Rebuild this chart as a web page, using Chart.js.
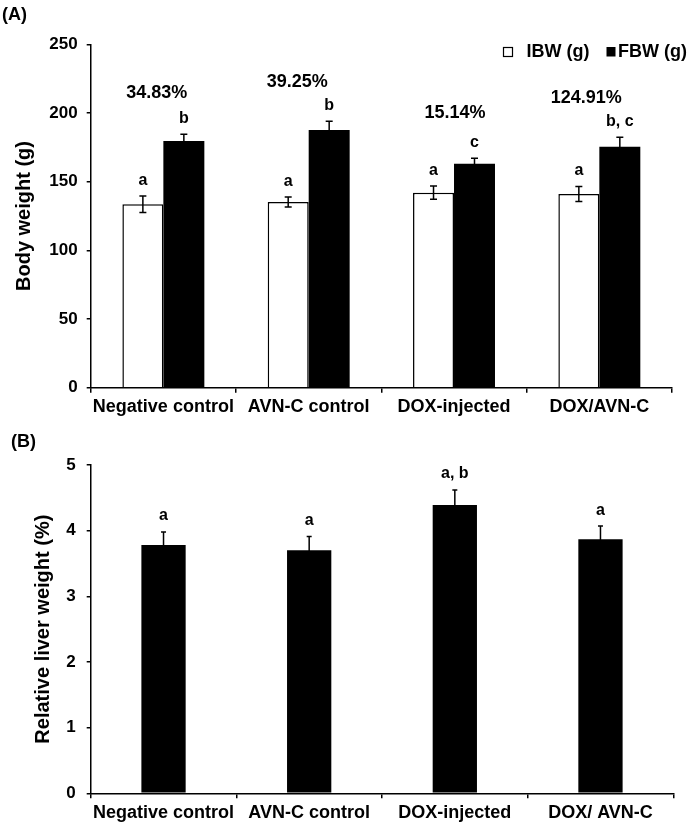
<!DOCTYPE html>
<html><head><meta charset="utf-8">
<script src="https://cdn.jsdelivr.net/npm/chart.js@4.4.0/dist/chart.umd.min.js"></script>
<style>
html,body{margin:0;padding:0;background:#fff;}
#wrap{position:relative;width:692px;height:830px;overflow:hidden;background:#fff;}
#cA{position:absolute;left:0;top:0;}
#cB{position:absolute;left:0;top:415px;}
</style></head><body>
<div id="wrap">
<canvas id="cA" width="692" height="430"></canvas>
<canvas id="cB" width="692" height="415"></canvas>
</div>
<script>
// ---- Data (A) ----
const categoriesA = ['Negative control', 'AVN-C control', 'DOX-injected', 'DOX/AVN-C'];
const ibw = [133.5, 135.2, 142.0, 141.0];
const ibwErr = [6.0, 3.6, 4.8, 5.5];
const fbw = [179.6, 187.6, 163.1, 175.5];
const fbwErr = [5.0, 6.3, 4.0, 6.8];
const ibwLetters = ['a', 'a', 'a', 'a'];
const fbwLetters = ['b', 'b', 'c', 'b, c'];
const gainLabels = ['34.83%', '39.25%', '15.14%', '124.91%'];
const yTicksA = [0, 50, 100, 150, 200, 250];

// ---- Data (B) ----
const categoriesB = ['Negative control', 'AVN-C control', 'DOX-injected', 'DOX/ AVN-C'];
const liver = [3.78, 3.70, 4.39, 3.87];
const liverErr = [0.20, 0.21, 0.23, 0.20];
const liverLetters = ['a', 'a', 'a, b', 'a'];
const yTicksB = [0, 1, 2, 3, 4, 5];

const FAM = '"Liberation Sans", Arial, Helvetica, sans-serif';
Chart.defaults.font.family = FAM;
Chart.defaults.color = '#000';

function drawErr(ctx, cx, top, bot, half) {
  ctx.beginPath();
  ctx.moveTo(cx, top); ctx.lineTo(cx, bot);
  ctx.moveTo(cx - half, top); ctx.lineTo(cx + half, top);
  ctx.moveTo(cx - half, bot); ctx.lineTo(cx + half, bot);
  ctx.stroke();
}

const annotA = {
  id: 'annotA',
  afterDatasetsDraw(chart, args, opts) {
    const ctx = chart.ctx, y = chart.scales.y, x = chart.scales.x;
    ctx.save();
    ctx.strokeStyle = '#000'; ctx.fillStyle = '#000'; ctx.lineWidth = 1.5;
    const sets = [[0, ibw, ibwErr, ibwLetters], [1, fbw, fbwErr, fbwLetters]];
    sets.forEach(([di, vals, errs, letters]) => {
      chart.getDatasetMeta(di).data.forEach((bar, i) => {
        const top = y.getPixelForValue(vals[i] + errs[i]);
        const bot = y.getPixelForValue(vals[i] - errs[i]);
        drawErr(ctx, bar.x, top, bot, 3.5);
        ctx.font = 'bold 16px ' + FAM;
        ctx.textAlign = 'center'; ctx.textBaseline = 'alphabetic';
        ctx.fillText(letters[i], bar.x, top - 11);
      });
    });
    // percentage gains
    ctx.font = 'bold 18px ' + FAM;
    ctx.textAlign = 'center'; ctx.textBaseline = 'middle';
    gainLabels.forEach((t, i) => {
      const off = opts.gainOffsets[i];
      const top = y.getPixelForValue(fbw[i] + fbwErr[i]);
      ctx.fillText(t, x.getPixelForValue(i) + off[0], top + off[1]);
    });
    // legend
    ctx.lineWidth = 1.2;
    ctx.strokeRect(503.5, 47.5, 9, 9);
    ctx.fillRect(606.5, 47, 9, 9.5);
    ctx.font = 'bold 18px ' + FAM;
    ctx.textAlign = 'left'; ctx.textBaseline = 'middle';
    ctx.fillText(chart.data.datasets[0].label, 526.5, 52);
    ctx.fillText(chart.data.datasets[1].label, 618, 52);
    // panel label
    ctx.font = 'bold 18px ' + FAM;
    ctx.fillText('(A)', 2, 15);
    ctx.restore();
  }
};

const annotB = {
  id: 'annotB',
  afterDatasetsDraw(chart) {
    const ctx = chart.ctx, y = chart.scales.y;
    ctx.save();
    ctx.strokeStyle = '#000'; ctx.fillStyle = '#000'; ctx.lineWidth = 1.5;
    chart.getDatasetMeta(0).data.forEach((bar, i) => {
      const top = y.getPixelForValue(liver[i] + liverErr[i]);
      const bot = y.getPixelForValue(liver[i] - liverErr[i]);
      drawErr(ctx, bar.x, top, bot, 2.5);
      ctx.font = 'bold 16px ' + FAM;
      ctx.textAlign = 'center'; ctx.textBaseline = 'alphabetic';
      ctx.fillText(liverLetters[i], bar.x, top - 11.5);
    });
    ctx.font = 'bold 18px ' + FAM;
    ctx.textAlign = 'left'; ctx.textBaseline = 'middle';
    ctx.fillText('(B)', 11, 27);
    ctx.restore();
  }
};

function axisCommon(fontSize) {
  return {
    grid: { display: true, drawOnChartArea: false, color: '#000', lineWidth: 1.5 },
    border: { display: true, color: '#000', width: 1.5 },
    ticks: { color: '#000', font: { size: fontSize, weight: 'bold', family: FAM } }
  };
}

new Chart(document.getElementById('cA'), {
  type: 'bar',
  data: {
    labels: categoriesA,
    datasets: [
      { label: 'IBW (g)', data: ibw, backgroundColor: '#fff', borderColor: '#000', borderWidth: 1.5, barPercentage: 1, categoryPercentage: 0.564 },
      { label: 'FBW (g)', data: fbw, backgroundColor: '#000', borderColor: '#000', borderWidth: 0, barPercentage: 1, categoryPercentage: 0.564 }
    ]
  },
  options: {
    responsive: false, animation: false, devicePixelRatio: 1,
    layout: { padding: { top: 44.3, right: 20, left: 0, bottom: 0 } },
    plugins: { legend: { display: false }, tooltip: { enabled: false }, annotA: { gainOffsets: [[-6.6, -41], [-11.5, -39], [1, -45], [-13, -39]] } },
    scales: {
      x: Object.assign(axisCommon(18), {
        ticks: { color: '#000', font: { size: 18, weight: 'bold', family: FAM }, padding: 4, maxRotation: 0, autoSkip: false },
        grid: { display: true, drawOnChartArea: false, color: '#000', lineWidth: 1.5, tickLength: 5, offset: true },
        afterFit(s) { s.height = 42.3; }
      }),
      y: Object.assign(axisCommon(17), {
        min: 0, max: 250,
        afterBuildTicks(s) { s.ticks = yTicksA.map(v => ({ value: v })); },
        ticks: { color: '#000', font: { size: 17, weight: 'bold', family: FAM }, padding: 9 },
        grid: { display: true, drawOnChartArea: false, color: '#000', lineWidth: 1.5, tickLength: 4 },
        title: { display: true, text: 'Body weight (g)', color: '#000', font: { size: 20, weight: 'bold', family: FAM }, padding: { top: 12, bottom: 0 } },
        afterFit(s) { s.width = 90.7; }
      })
    }
  },
  plugins: [annotA]
});

new Chart(document.getElementById('cB'), {
  type: 'bar',
  data: {
    labels: categoriesB,
    datasets: [
      { label: 'Relative liver weight', data: liver, backgroundColor: '#000', borderWidth: 0, barPercentage: 1, categoryPercentage: 0.304 }
    ]
  },
  options: {
    responsive: false, animation: false, devicePixelRatio: 1,
    layout: { padding: { top: 50, right: 18.7, left: 0, bottom: 0 } },
    plugins: { legend: { display: false }, tooltip: { enabled: false } },
    scales: {
      x: Object.assign(axisCommon(18), {
        ticks: { color: '#000', font: { size: 18, weight: 'bold', family: FAM }, padding: 4, maxRotation: 0, autoSkip: false },
        grid: { display: true, drawOnChartArea: false, color: '#000', lineWidth: 1.5, tickLength: 5, offset: true },
        afterFit(s) { s.height = 36.7; }
      }),
      y: Object.assign(axisCommon(17), {
        min: 0, max: 5,
        afterBuildTicks(s) { s.ticks = yTicksB.map(v => ({ value: v })); },
        ticks: { color: '#000', font: { size: 17, weight: 'bold', family: FAM }, padding: 11 },
        grid: { display: true, drawOnChartArea: false, color: '#000', lineWidth: 1.5, tickLength: 4 },
        title: { display: true, text: 'Relative liver weight (%)', color: '#000', font: { size: 20, weight: 'bold', family: FAM }, padding: { top: 31, bottom: 0 } },
        afterFit(s) { s.width = 90.7; }
      })
    }
  },
  plugins: [annotB]
});
</script>
</body></html>
